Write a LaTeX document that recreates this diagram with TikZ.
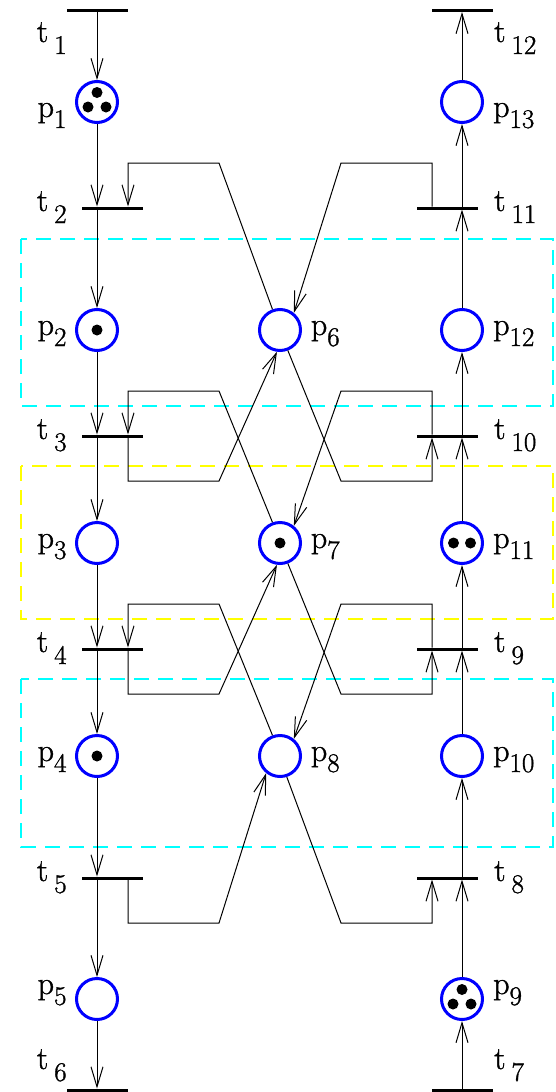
\documentclass[tikz,border=0pt]{standalone}
\usepackage{fontspec}
\newfontfamily\lblfont{Latin Modern Roman}[FakeBold=1.2]
\usetikzlibrary{arrows.meta}
\definecolor{zonecyan}{RGB}{0,255,255}
\definecolor{zoneyellow}{RGB}{255,255,0}
\definecolor{placeblue}{RGB}{0,0,255}
\newcommand{\subsz}{\fontsize{27pt}{27pt}\selectfont}
\newcommand{\PL}[1]{p\raisebox{-11pt}{\subsz #1}}
\newcommand{\TL}[1]{t\hspace{6pt}\raisebox{-12pt}{\subsz #1}}
\begin{document}
\begin{tikzpicture}[x=1pt,y=-1pt,
  pl/.style={circle,draw=placeblue,line width=3pt,minimum size=41pt,inner sep=0pt},
  tbar/.style={rectangle,fill=black,minimum width=61pt,minimum height=3pt,inner sep=0pt,outer sep=0pt},
  flow/.style={line width=1pt,-{Straight Barb[length=20pt,width=12pt]}},
  lab/.style={anchor=base west,inner sep=0pt,font=\lblfont\fontsize{32pt}{32pt}\selectfont},
  zone/.style={line width=1.5pt,dash pattern=on 15pt off 9pt}]
\useasboundingbox (0,0) rectangle (555,1092);
% zones
\draw[zone,zonecyan] (21,239) rectangle (553,406);
\draw[zone,zoneyellow] (21,466) rectangle (553,619);
\draw[zone,zonecyan] (21,679) rectangle (553,847);
% transitions
\node[tbar] (t1) at (97.5,10.5) {};
\node[tbar] (t2) at (112.5,208) {};
\node[tbar] (t3) at (112.5,436) {};
\node[tbar] (t4) at (112.5,649) {};
\node[tbar] (t5) at (112.5,878) {};
\node[tbar] (t6) at (97.5,1090) {};
\node[tbar] (t7) at (462.5,1090) {};
\node[tbar] (t8) at (447,878) {};
\node[tbar] (t9) at (447,649) {};
\node[tbar] (t10) at (447,436) {};
\node[tbar] (t11) at (447,208) {};
\node[tbar] (t12) at (462.5,10.5) {};
% places
\node[pl] (p1) at (97,102) {};
\node[pl] (p2) at (97,330) {};
\node[pl] (p3) at (97,543) {};
\node[pl] (p4) at (97,756) {};
\node[pl] (p5) at (97,999) {};
\node[pl] (p6) at (280,330) {};
\node[pl] (p7) at (280,543) {};
\node[pl] (p8) at (280,756) {};
\node[pl] (p9) at (462,999) {};
\node[pl] (p10) at (462,756) {};
\node[pl] (p11) at (462,543) {};
\node[pl] (p12) at (462,330) {};
\node[pl] (p13) at (462,102) {};
% tokens
\fill (p1) ++(0,-9.5) circle[radius=5.5pt];
\fill (p1) ++(-9,5) circle[radius=5.5pt];
\fill (p1) ++(9,5) circle[radius=5.5pt];
\fill (p9) ++(0,-9.5) circle[radius=5.5pt];
\fill (p9) ++(-9,5) circle[radius=5.5pt];
\fill (p9) ++(9,5) circle[radius=5.5pt];
\fill (p2) circle[radius=5.5pt];
\fill (p4) circle[radius=5.5pt];
\fill (p7) circle[radius=5.5pt];
\fill (p11) ++(-8.5,0) circle[radius=5.5pt];
\fill (p11) ++(8.5,0) circle[radius=5.5pt];
% corner coordinates
\coordinate (a2) at (128,163); \coordinate (b2) at (219,163);
\coordinate (a3) at (128,391); \coordinate (b3) at (219,391);
\coordinate (a4) at (128,604); \coordinate (b4) at (219,604);
\coordinate (c3) at (128,481); \coordinate (d3) at (219,481);
\coordinate (c4) at (128,694); \coordinate (d4) at (219,694);
\coordinate (c5) at (128,923); \coordinate (d5) at (219,923);
\coordinate (e11) at (432,163); \coordinate (f11) at (341,163);
\coordinate (e10) at (432,391); \coordinate (f10) at (341,391);
\coordinate (e9) at (432,604); \coordinate (f9) at (341,604);
\coordinate (g10) at (432,481); \coordinate (h10) at (341,481);
\coordinate (g9) at (432,694); \coordinate (h9) at (341,694);
\coordinate (g8) at (432,923); \coordinate (h8) at (341,923);
% left column
\draw[flow] (t1.south -| p1) -- (p1.north);
\draw[flow] (p1.south) -- (p1.south |- t2.north);
\draw[flow] (t2.south -| p2) -- (p2.north);
\draw[flow] (p2.south) -- (p2.south |- t3.north);
\draw[flow] (t3.south -| p3) -- (p3.north);
\draw[flow] (p3.south) -- (p3.south |- t4.north);
\draw[flow] (t4.south -| p4) -- (p4.north);
\draw[flow] (p4.south) -- (p4.south |- t5.north);
\draw[flow] (t5.south -| p5) -- (p5.north);
\draw[flow] (p5.south) -- (p5.south |- t6.north);
% right column
\draw[flow] (t7.north -| p9) -- (p9.south);
\draw[flow] (p9.north) -- (p9.north |- t8.south);
\draw[flow] (t8.north -| p10) -- (p10.south);
\draw[flow] (p10.north) -- (p10.north |- t9.south);
\draw[flow] (t9.north -| p11) -- (p11.south);
\draw[flow] (p11.north) -- (p11.north |- t10.south);
\draw[flow] (t10.north -| p12) -- (p12.south);
\draw[flow] (p12.north) -- (p12.north |- t11.south);
\draw[flow] (t11.north -| p13) -- (p13.south);
\draw[flow] (p13.north) -- (p13.north |- t12.south);
% left cross links
\draw[flow] (p6.110) -- (b2) -- (a2) -- (a2 |- t2.north);
\draw[flow] (p7.110) -- (b3) -- (a3) -- (a3 |- t3.north);
\draw[flow] (p8.110) -- (b4) -- (a4) -- (a4 |- t4.north);
\draw[flow] (t3.south -| c3) -- (c3) -- (d3) -- (p6.-98);
\draw[flow] (t4.south -| c4) -- (c4) -- (d4) -- (p7.-98);
\draw[flow] (t5.south -| c5) -- (c5) -- (d5) -- (p8.-129);
% right cross links
\draw[flow] (t11.north -| e11) -- (e11) -- (f11) -- (p6.51);
\draw[flow] (t10.north -| e10) -- (e10) -- (f10) -- (p7.51);
\draw[flow] (t9.north -| e9) -- (e9) -- (f9) -- (p8.51);
\draw[flow] (p6.-69) -- (h10) -- (g10) -- (g10 |- t10.south);
\draw[flow] (p7.-69) -- (h9) -- (g9) -- (g9 |- t9.south);
\draw[flow] (p8.-72) -- (h8) -- (g8) -- (g8 |- t8.south);
% labels
\node[lab] (lt1) at (36.7,42) {\TL{1}};
\node[lab] (lt2) at (36.7,211) {\TL{2}};
\node[lab] (lt3) at (36.7,439) {\TL{3}};
\node[lab] (lt4) at (36.7,652) {\TL{4}};
\node[lab] (lt5) at (36.7,881) {\TL{5}};
\node[lab] (lt6) at (36.7,1069) {\TL{6}};
\node[lab] (lt12) at (494,42) {\TL{12}};
\node[lab] (lt11) at (494,211) {\TL{11}};
\node[lab] (lt10) at (494,439) {\TL{10}};
\node[lab] (lt9) at (494,652) {\TL{9}};
\node[lab] (lt8) at (494,881) {\TL{8}};
\node[lab] (lt7) at (494,1069) {\TL{7}};
\node[lab] (lp1) at (37.5,117) {\PL{1}};
\node[lab] (lp2) at (37.5,335) {\PL{2}};
\node[lab] (lp3) at (37.5,548) {\PL{3}};
\node[lab] (lp4) at (37.5,761) {\PL{4}};
\node[lab] (lp5) at (37.5,994) {\PL{5}};
\node[lab] (lp6) at (310.7,335) {\PL{6}};
\node[lab] (lp7) at (310.7,548) {\PL{7}};
\node[lab] (lp8) at (310.7,761) {\PL{8}};
\node[lab] (lp13) at (493,117) {\PL{13}};
\node[lab] (lp12) at (493,335) {\PL{12}};
\node[lab] (lp11) at (493,548) {\PL{11}};
\node[lab] (lp10) at (493,761) {\PL{10}};
\node[lab] (lp9) at (493,994) {\PL{9}};
\end{tikzpicture}
\end{document}
